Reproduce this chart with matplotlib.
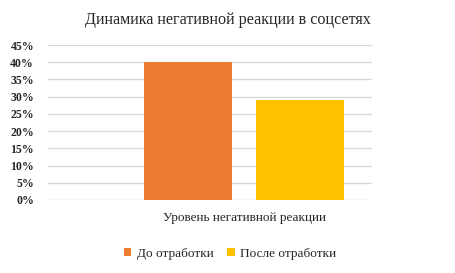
import matplotlib.pyplot as plt
from matplotlib.ticker import PercentFormatter

categories = ['Уровень негативной реакции']
series_names = ['До отработки', 'После отработки']
before = [0.40]
after = [0.29]
yticks = [0, 0.05, 0.10, 0.15, 0.20, 0.25, 0.30, 0.35, 0.40, 0.45]

plt.rcParams['font.family'] = ['Liberation Serif', 'DejaVu Serif']

fig = plt.figure(figsize=(4.55, 2.73), dpi=100)
ax = fig.add_axes([0.1055, 0.2674, 0.7121, 0.5676])

bar_w = 0.44
off = 0.28
ax.bar([-off], before, bar_w, color='#ED7D31', label=series_names[0], zorder=3)
ax.bar([off], after, bar_w, color='#FFC000', label=series_names[1], zorder=3)

ax.set_xlim(-0.98, 0.64)
ax.set_ylim(0, 0.45)
ax.set_yticks(yticks)
ax.yaxis.set_major_formatter(PercentFormatter(1.0, decimals=0))
ax.set_xticks([0])
ax.set_xticklabels(categories, fontsize=9.5, color='#262626')
ax.tick_params(axis='x', length=0, pad=9)
ax.tick_params(axis='y', length=0, pad=10, labelsize=8.5, labelcolor='#262626')
for lab in ax.get_yticklabels():
    lab.set_fontweight('bold')
ax.grid(axis='y', color='#D9D9D9', linewidth=1, zorder=0)
for s in ax.spines.values():
    s.set_visible(False)

fig.text(0.5, 0.925, 'Динамика негативной реакции в соцсетях', ha='center', va='center',
         fontsize=11.6, color='#262626')

leg = fig.legend(loc='center', bbox_to_anchor=(0.505, 0.07), ncol=2, frameon=False,
                 fontsize=9.5, handlelength=0.6, handleheight=0.6, handletextpad=0.4,
                 columnspacing=1.0)
for t in leg.get_texts():
    t.set_color('#262626')

fig.savefig('out.png', dpi=100)
